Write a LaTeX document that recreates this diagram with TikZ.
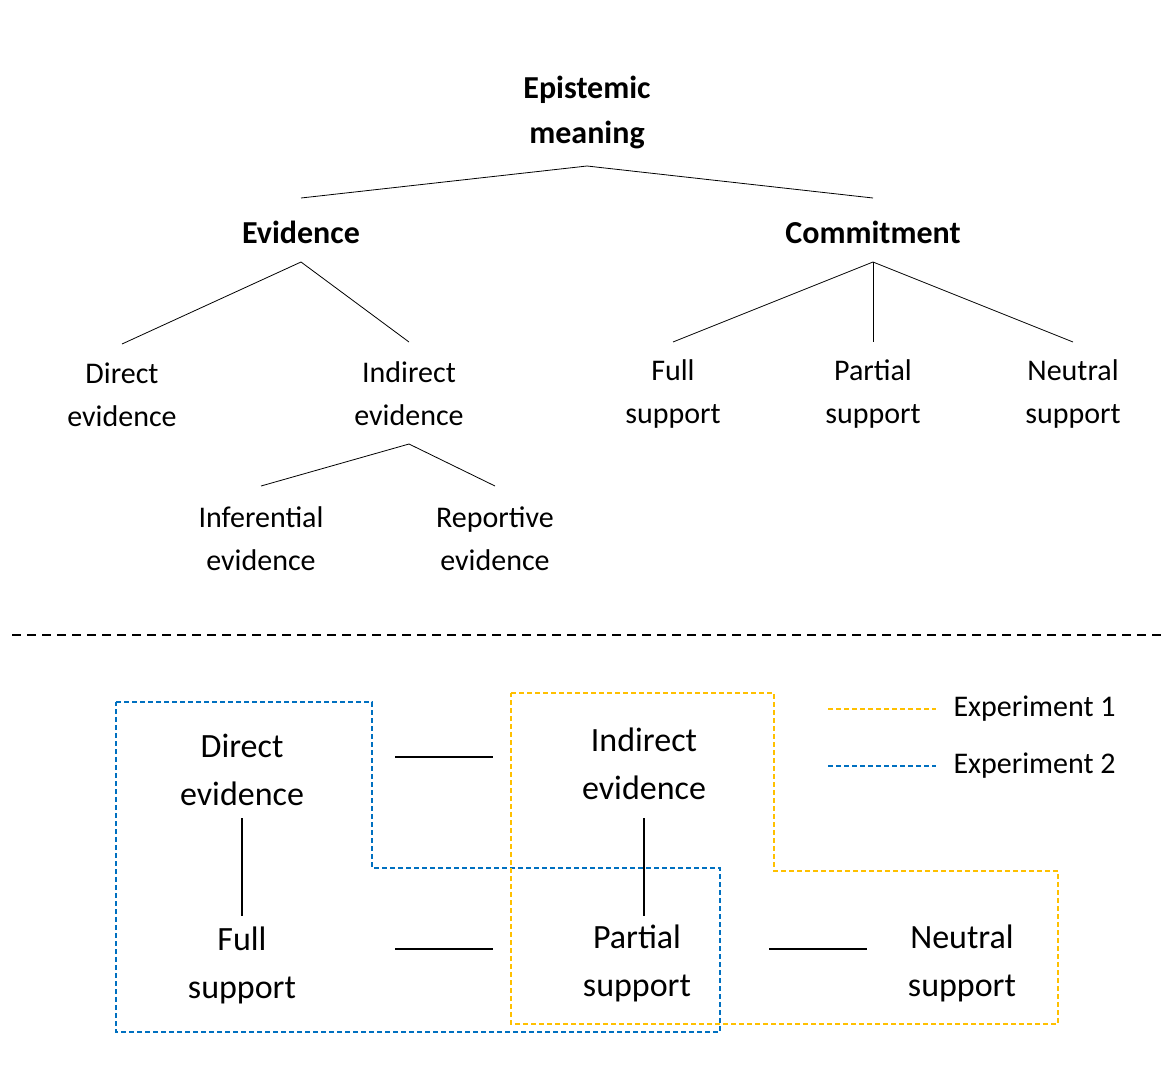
\documentclass[tikz,border=0pt]{standalone}
\usepackage{fontspec}
\setmainfont{Carlito}
\definecolor{exone}{HTML}{FFC000}
\definecolor{extwo}{HTML}{0070C0}
\begin{document}
\begin{tikzpicture}[x=1pt,y=-1pt,
  top/.style={align=center,font=\fontsize{32}{45}\selectfont\bfseries},
  lbl/.style={align=center,font=\fontsize{30}{43}\selectfont},
  big/.style={align=center,font=\fontsize{34}{48}\selectfont},
  br/.style={line width=0.8pt},
  lk/.style={line width=2pt},
  ex1/.style={exone,dashed,line width=1.6pt,dash pattern=on 5pt off 3pt},
  ex2/.style={extwo,dashed,line width=1.6pt,dash pattern=on 5pt off 3pt}]
\useasboundingbox (0,0) rectangle (1174,1080);
% tree
\node[top] (em) at (587,112) {Epistemic\\meaning};
\node[top] (ev) at (301,232) {Evidence};
\node[top] (cm) at (873,232) {Commitment};
\node[lbl] (de) at (122,395) {Direct\\evidence};
\node[lbl] (ie) at (409,394) {Indirect\\evidence};
\node[lbl] (fs) at (673,394) {Full\\support};
\node[lbl] (ps) at (873,394) {Partial\\support};
\node[lbl] (ns) at (1073,394) {Neutral\\support};
\node[lbl] (inf) at (261,539) {Inferential\\evidence};
\node[lbl] (rep) at (495,539) {Reportive\\evidence};
\coordinate (a0) at (587,166);
\draw[br] (a0) -- (ev.north |- 0,198);
\draw[br] (a0) -- (cm.north |- 0,198);
\coordinate (a1) at (301,262);
\draw[br] (a1) -- (de.north |- 0,344);
\draw[br] (a1) -- (ie.north |- 0,342);
\coordinate (a2) at (873,262);
\draw[br] (a2) -- (fs.north |- 0,342);
\draw[br] (a2) -- (ps.north |- 0,342);
\draw[br] (a2) -- (ns.north |- 0,342);
\coordinate (a3) at (409,444);
\draw[br] (a3) -- (inf.north |- 0,486);
\draw[br] (a3) -- (rep.north |- 0,486);
% separator
\coordinate (s1) at (12,635); \coordinate (s2) at (1162,635);
\draw[line width=1.6pt,dash pattern=on 9pt off 6pt] (s1) -- (s2);
% bottom
\node[big] (bde) at (242,770) {Direct\\evidence};
\node[big] (bie) at (644,764) {Indirect\\evidence};
\node[big] (bfs) at (242,965) {Full\\support};
\node[big] (bps) at (637,963) {Partial\\support};
\node[big] (bns) at (962,963) {Neutral\\support};
\draw[lk] (395,757) -- (493,757);
\draw[lk] (395,949) -- (493,949);
\draw[lk] (769,949) -- (867,949);
\draw[lk] (bde.south |- 0,818) -- (bde.south |- 0,916);
\draw[lk] (bie.south |- 0,818) -- (bie.south |- 0,916);
\draw[ex2] (116,702) -- (372,702) -- (372,868) -- (720,868) -- (720,1032) -- (116,1032) -- cycle;
\draw[ex1] (511,693) -- (774,693) -- (774,871) -- (1058,871) -- (1058,1024) -- (511,1024) -- cycle;
\node[lbl,anchor=west] (l1) at (950,709) {Experiment 1};
\node[lbl,anchor=west] (l2) at (950,766) {Experiment 2};
\draw[ex1] (828,709) -- (l1.west -| 936,0);
\draw[ex2] (828,766) -- (l2.west -| 936,0);
\end{tikzpicture}
\end{document}
